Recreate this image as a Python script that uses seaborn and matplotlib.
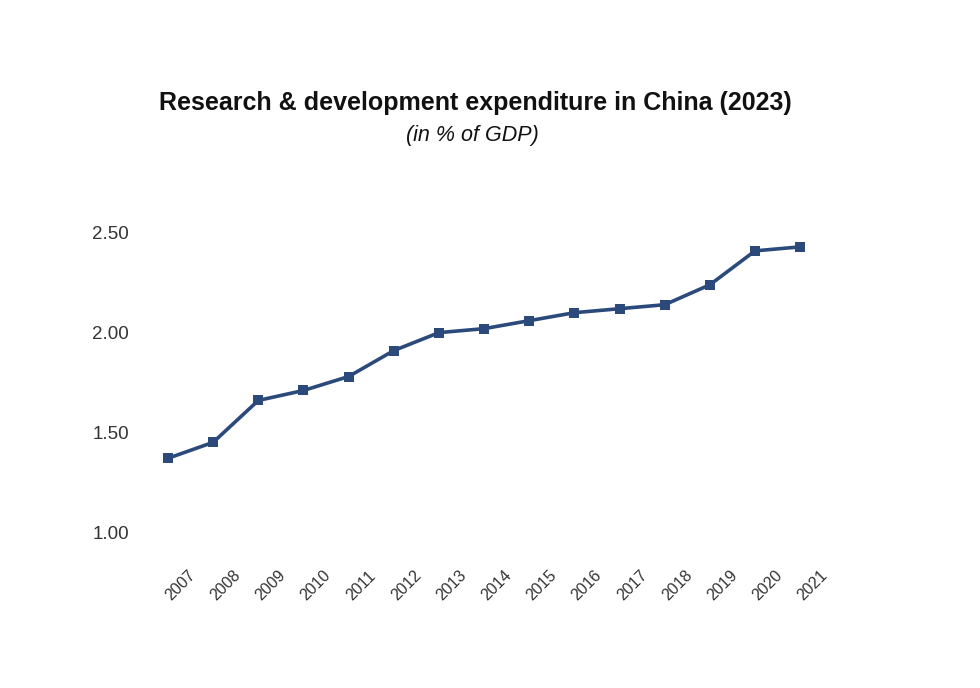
import seaborn as sns
import numpy as np
import matplotlib.pyplot as plt
import pandas as pd

years = ["2007", "2008", "2009", "2010", "2011", "2012", "2013", "2014",
         "2015", "2016", "2017", "2018", "2019", "2020", "2021"]
rd_share = [1.37, 1.45, 1.66, 1.71, 1.78, 1.91, 2.00, 2.02,
            2.06, 2.10, 2.12, 2.14, 2.24, 2.41, 2.43]
y_ticks = [1.00, 1.50, 2.00, 2.50]

df = pd.DataFrame({"pos": np.arange(len(years)), "year": years, "value": rd_share})

sns.set_style("white")
plt.rcParams['font.family'] = ['Liberation Sans', 'DejaVu Sans']

fig = plt.figure(figsize=(9.8, 6.88), dpi=100)
ax = fig.add_axes([140 / 980, 1 - 560 / 688, 690 / 980, 360 / 688])

color = "#2b4a7b"
sns.lineplot(data=df, x="pos", y="value", ax=ax, color=color, linewidth=2.6,
             marker="s", markersize=7, markeredgewidth=0, solid_joinstyle="round")

ax.set_xlim(-0.62, 14.66)
ax.set_ylim(0.86, 2.665)
ax.set_yticks(y_ticks)
ax.set_yticklabels([f"{v:.2f}" for v in y_ticks], fontsize=13.5, color="#333333")
ax.set_xticks(df["pos"])
# labels start at their point and run up to the right, like the original
ax.set_xticklabels(years, fontsize=11.5, color="#333333", rotation=45,
                   ha="left", va="center", rotation_mode="anchor")
ax.tick_params(axis="both", length=0)
ax.tick_params(axis="y", pad=8)
ax.tick_params(axis="x", pad=27)
ax.set_xlabel("")
ax.set_ylabel("")
sns.despine(ax=ax, left=True, bottom=True)

fig.text(475 / 980, 1 - 103 / 688, "Research & development expenditure in China (2023)",
         ha="center", va="center", fontsize=18, fontweight="bold", color="#111111")
fig.text(472 / 980, 1 - 136 / 688, "(in % of GDP)", ha="center", va="center",
         fontsize=15.5, style="italic", color="#111111")

fig.savefig("out.png", dpi=100)
